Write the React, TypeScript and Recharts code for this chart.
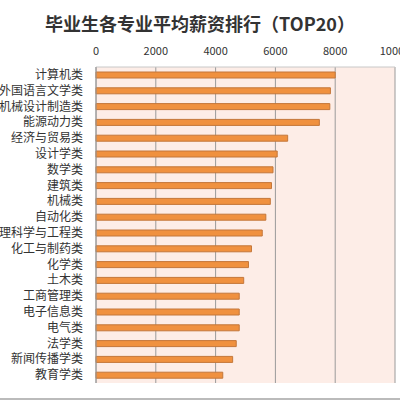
import React from 'react';
import { BarChart, Bar, XAxis, YAxis, CartesianGrid } from 'recharts';

// majors, top to bottom
const majors = [
  '计算机类',
  '外国语言文学类',
  '机械设计制造类',
  '能源动力类',
  '经济与贸易类',
  '设计学类',
  '数学类',
  '建筑类',
  '机械类',
  '自动化类',
  '管理科学与工程类',
  '化工与制药类',
  '化学类',
  '土木类',
  '工商管理类',
  '电子信息类',
  '电气类',
  '法学类',
  '新闻传播学类',
  '教育学类',
];

// average salary per major
const salaries = [
  8000, 7840, 7820, 7470, 6410, 6060, 5920, 5870, 5830, 5680,
  5560, 5200, 5100, 4940, 4790, 4790, 4790, 4690, 4570, 4240,
];

const xTicks = [0, 2000, 4000, 6000, 8000, 10000];

const data = majors.map((name, i) => ({ name, value: salaries[i] }));

const FONT = '"Noto Sans CJK SC", "Noto Sans", sans-serif';

const MajorTick = (props: any) => {
  const { x, y, payload } = props;
  return (
    <text x={x} y={y} dy={4} textAnchor="end" fontSize={12} fill="#333" fontFamily={FONT}>
      {payload.value}
    </text>
  );
};

export default function App() {
  return (
    <div
      style={{
        position: 'absolute',
        left: 0,
        top: 0,
        width: 400,
        height: 400,
        background: '#fff',
        fontFamily: FONT,
        borderBottom: '2px solid #bbb',
        boxSizing: 'border-box',
      }}
    >
      <div
        style={{
          position: 'absolute',
          top: 10,
          left: 0,
          width: 400,
          textAlign: 'center',
          fontSize: 18,
          fontWeight: 'bold',
          color: '#333',
        }}
      >
        毕业生各专业平均薪资排行（TOP20）
      </div>
      <BarChart
        width={400}
        height={400}
        data={data}
        layout="vertical"
        margin={{ top: 37, right: 5, bottom: 17, left: 0 }}
      >
        <CartesianGrid horizontal={false} stroke="#9a9a9a" fill="#fdede7" fillOpacity={1} />
        <XAxis
          type="number"
          orientation="top"
          domain={[0, 10000]}
          ticks={xTicks}
          height={30}
          axisLine={{ stroke: '#c8c8c8' }}
          tickLine={false}
          tickSize={0}
          tickMargin={12}
          tick={{ fontSize: 11, fill: '#333', fontFamily: FONT }}
          interval={0}
        />
        <YAxis
          type="category"
          dataKey="name"
          width={96}
          axisLine={{ stroke: '#9a9a9a' }}
          tickLine={false}
          tickSize={0}
          tickMargin={13}
          interval={0}
          tick={<MajorTick />}
        />
        <Bar
          dataKey="value"
          barSize={6}
          fill="#f0913f"
          stroke="#c4773a"
          strokeWidth={1}
          isAnimationActive={false}
        />
      </BarChart>
    </div>
  );
}
